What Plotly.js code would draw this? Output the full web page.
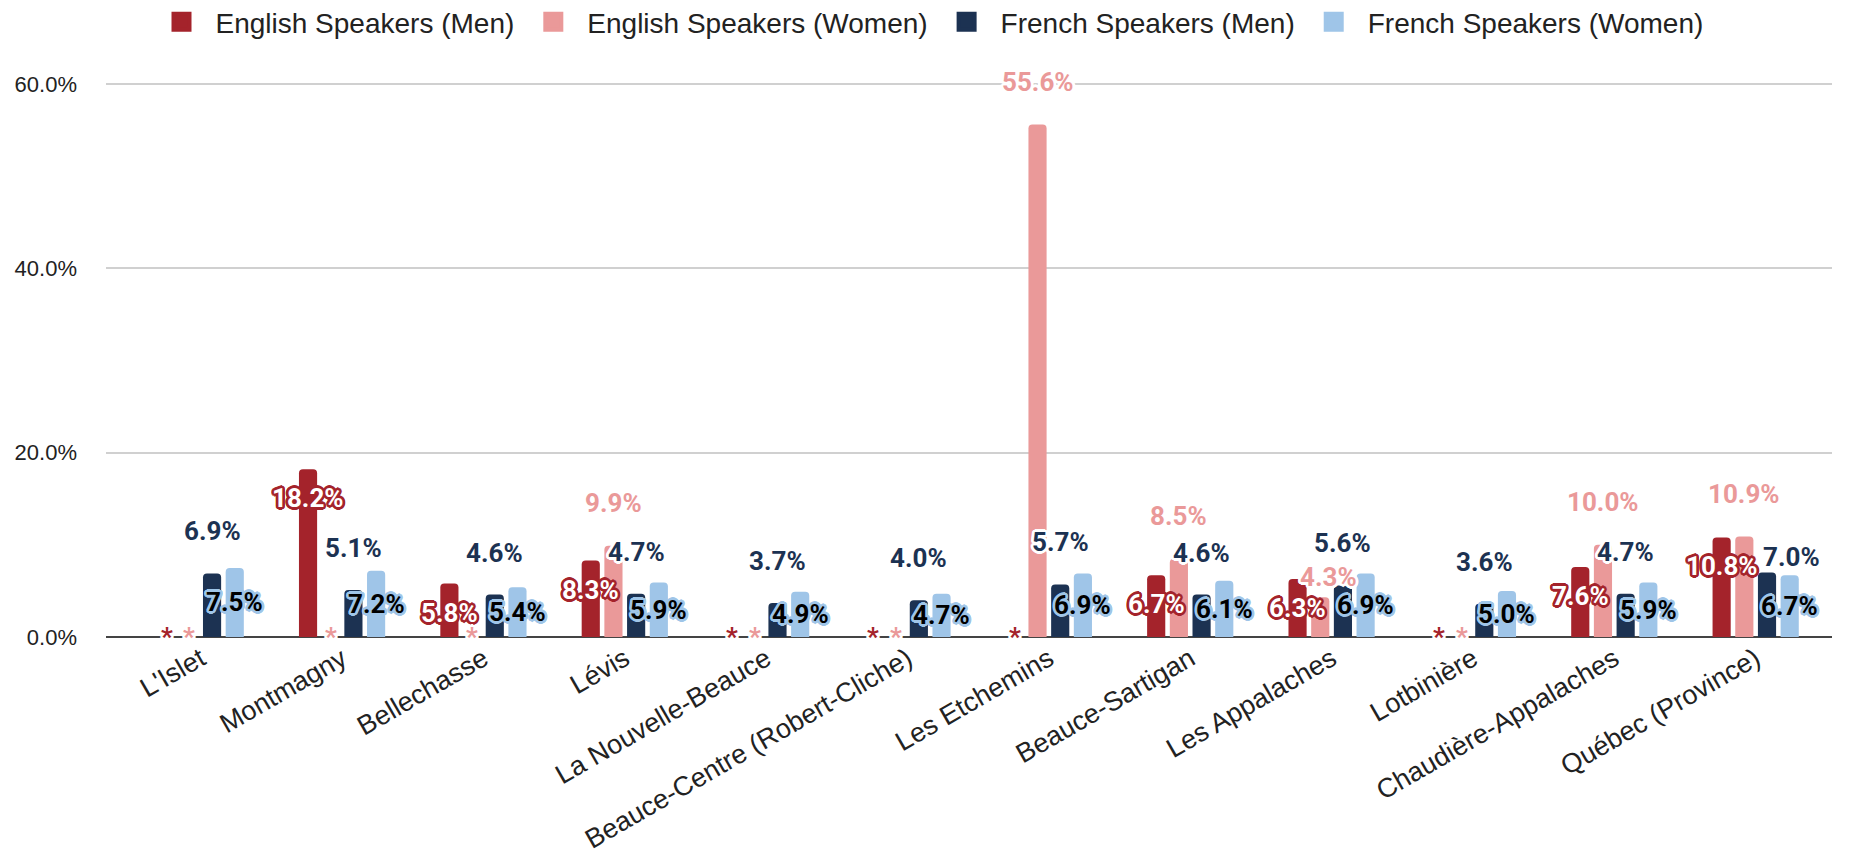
<!DOCTYPE html>
<html><head><meta charset="utf-8">
<script src="https://cdn.plot.ly/plotly-3.0.1.min.js"></script>
<style>html,body{margin:0;padding:0;background:#fff}#chart{width:1856px;height:864px}</style>
</head><body><div id="chart"></div>
<script>
// ---- data ----
const categories = ["L'Islet","Montmagny","Bellechasse","Lévis","La Nouvelle-Beauce","Beauce-Centre (Robert-Cliche)","Les Etchemins","Beauce-Sartigan","Les Appalaches","Lotbinière","Chaudière-Appalaches","Québec (Province)"];
const englishMen   = [null, 18.2, 5.8, 8.3, null, null, null, 6.7, 6.3, null, 7.6, 10.8];
const englishWomen = [null, null, null, 9.9, null, null, 55.6, 8.5, 4.3, null, 10.0, 10.9];
const frenchMen    = [6.9, 5.1, 4.6, 4.7, 3.7, 4.0, 5.7, 4.6, 5.6, 3.6, 4.7, 7.0];
const frenchWomen  = [7.5, 7.2, 5.4, 5.9, 4.9, 4.7, 6.9, 6.1, 6.9, 5.0, 5.9, 6.7];
const seriesNames  = ["English Speakers (Men)", "English Speakers (Women)", "French Speakers (Men)", "French Speakers (Women)"];
const yTickVals    = [0, 20, 40, 60];
const yTickText    = ["0.0%", "20.0%", "40.0%", "60.0%"];
const missingLabel = "*";

// ---- styles ----
const colors = ["#a4232b", "#ea9999", "#1c3252", "#9fc5e8"];
const BARGAP = 0.358, BARGROUPGAP = 0.2;
const labelFamily = "Roboto, 'Noto Sans', sans-serif";
const axisFamily = "'Liberation Sans', Arial, sans-serif";
function outline(c, w) {
  const a = [];
  for (let k = 0; k < 16; k++) {
    const t = k * Math.PI / 8;
    a.push((w * Math.cos(t)).toFixed(2) + "px " + (w * Math.sin(t)).toFixed(2) + "px 0 " + c);
  }
  return a.join(", ");
}
const fmt = v => v.toFixed(1) + "%";
const allSeries = [englishMen, englishWomen, frenchMen, frenchWomen];

const traces = allSeries.map((vals, s) => ({
  type: "bar", x: categories, y: vals, name: seriesNames[s],
  marker: {color: colors[s]}, showlegend: false, hoverinfo: "skip"
}));
// legend entries (larger square swatches)
seriesNames.forEach((n, s) => traces.push({
  type: "scatter", mode: "markers", x: [null], y: [null], name: n,
  marker: {symbol: "square", size: 16, color: colors[s], line: {color: colors[s], width: 4}},
  hoverinfo: "skip"
}));

const slot = (1 - BARGAP) / 4;
// label placement per series: at bar top with pixel shift, or at middle of bar
const labelCfg = [
  {at: "top", yshift: -29, font: {color: "#ffffff", shadow: outline(colors[0], 2.6)}},
  {at: "top", yshift: 43, font: {color: colors[1], shadow: outline("#ffffff", 2.6)}},
  {at: "top", yshift: 42, font: {color: colors[2], shadow: outline("#ffffff", 2.6)}},
  {at: "mid", yshift: 0, font: {color: "#000000", shadow: outline(colors[3], 2.6)}}
];
// collision nudges of individual labels (series index, category index) in pixels
const labelNudges = {"1,8": {xshift: 8, yshift: 20}, "2,11": {xshift: 24, yshift: 15}};
const annotations = [];
[0, 2, 1, 3].forEach(s => {
  const vals = allSeries[s];
  vals.forEach((v, i) => {
    const x = i + (s - 1.5) * slot;
    if (v == null) {
      annotations.push({x: x, y: 0, xref: "x", yref: "y", text: missingLabel, showarrow: false,
        yanchor: "middle", xanchor: "center",
        font: {family: labelFamily, size: 26, weight: 700, color: colors[s], shadow: outline("#ffffff", 2.6)}});
    } else {
      const c = labelCfg[s];
      const n = labelNudges[s + "," + i] || {};
      annotations.push({x: x, y: c.at === "mid" ? v / 2 : v, xref: "x", yref: "y", text: fmt(v), showarrow: false,
        yanchor: "middle", xanchor: "center",
        yshift: n.yshift !== undefined ? n.yshift : c.yshift, xshift: n.xshift || 0,
        font: Object.assign({family: labelFamily, size: 26, weight: 700}, c.font)});
    }
  });
});

const layout = {
  width: 1856, height: 864,
  margin: {l: 106, r: 24, t: 70, b: 227},
  paper_bgcolor: "#ffffff", plot_bgcolor: "#ffffff",
  barmode: "group", bargap: BARGAP, bargroupgap: BARGROUPGAP, barcornerradius: 4,
  font: {family: axisFamily, size: 24, color: "#222222"},
  showlegend: true,
  legend: {orientation: "h", xref: "container", yref: "container", x: 0.5, xanchor: "center",
    y: 1 - 22 / 864, yanchor: "middle", itemwidth: 58,
    font: {family: axisFamily, size: 28, color: "#222222"},
    itemclick: false, itemdoubleclick: false},
  xaxis: {type: "category", range: [-0.67, 11.54], tickangle: -30, showgrid: false,
    tickfont: {family: axisFamily, size: 27, color: "#222222"}, fixedrange: true},
  yaxis: {range: [0, 61.52], tickmode: "array", tickvals: yTickVals, ticktext: yTickText,
    showgrid: true, gridcolor: "#d0d0d0", gridwidth: 2,
    zeroline: true, zerolinecolor: "#444444", zerolinewidth: 2,
    ticklabelstandoff: 28, tickfont: {family: axisFamily, size: 22, color: "#222222"}, fixedrange: true},
  annotations: annotations
};
Plotly.newPlot("chart", traces, layout, {displayModeBar: false, staticPlot: true});
</script>
</body></html>
